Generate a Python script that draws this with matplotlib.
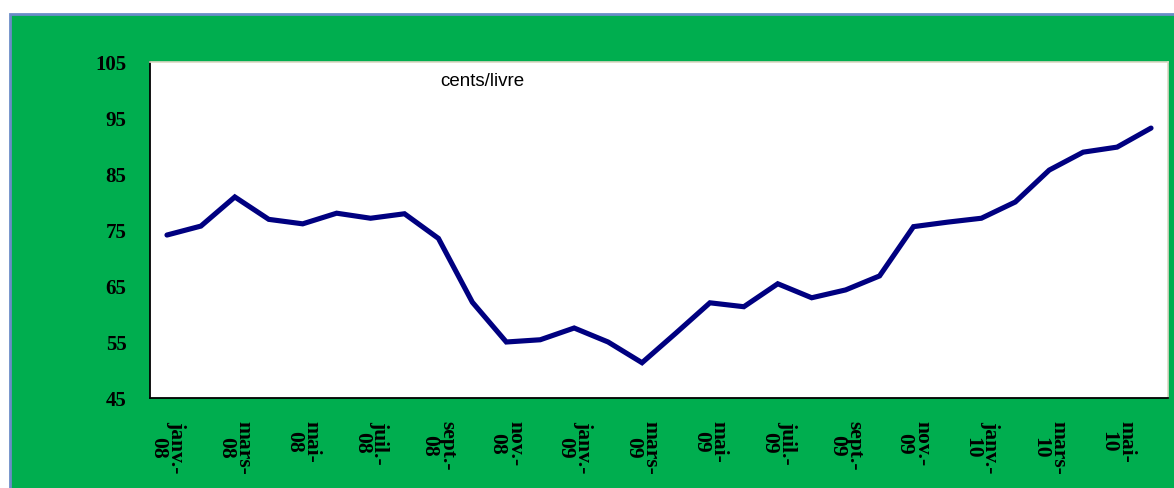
import matplotlib.pyplot as plt
from matplotlib.patches import Rectangle

# monthly prices, janv. 2008 - juin 2010
months = ['janv.-\n08', 'févr.-\n08', 'mars-\n08', 'avr.-\n08', 'mai-\n08', 'juin-\n08',
          'juil.-\n08', 'août-\n08', 'sept.-\n08', 'oct.-\n08', 'nov.-\n08', 'déc.-\n08',
          'janv.-\n09', 'févr.-\n09', 'mars-\n09', 'avr.-\n09', 'mai-\n09', 'juin-\n09',
          'juil.-\n09', 'août-\n09', 'sept.-\n09', 'oct.-\n09', 'nov.-\n09', 'déc.-\n09',
          'janv.-\n10', 'févr.-\n10', 'mars-\n10', 'avr.-\n10', 'mai-\n10', 'juin-\n10']
prices = [74.1, 75.7, 80.9, 76.9, 76.1, 78.0, 77.1, 77.9, 73.5, 62.1,
          55.0, 55.4, 57.5, 55.0, 51.3, 56.6, 62.0, 61.3, 65.4, 62.9,
          64.3, 66.8, 75.6, 76.4, 77.1, 80.0, 85.7, 88.9, 89.8, 93.2]
yticks = [45, 55, 65, 75, 85, 95, 105]
unit_label = 'cents/livre'

fig = plt.figure(figsize=(11.74, 4.89), dpi=100)
fig.patch.set_facecolor('white')

# green frame
frame = Rectangle((10 / 1174, -0.01), 1.0, 1 - 15 / 489 + 0.01, transform=fig.transFigure,
                  facecolor='#00AE4F', edgecolor='#6A8CC8', linewidth=2, zorder=-10)
fig.patches.append(frame)

ax = fig.add_axes([150 / 1174, 1 - 399 / 489, 1018 / 1174, 336 / 489])
ax.set_zorder(5)
ax.set_facecolor('white')

x = list(range(len(prices)))
ax.plot(x, prices, color='#000080', linewidth=3.7, solid_joinstyle='miter',
        solid_capstyle='round')

ax.set_xlim(-0.5, len(prices) - 0.5)
ax.set_ylim(45, 105)
ax.set_yticks(yticks)
ax.set_yticklabels([str(v) for v in yticks], fontfamily='Liberation Serif',
                   fontweight='bold', fontsize=15)
ax.set_xticks(x[::2])
ax.set_xticklabels(months[::2], rotation=-90, fontfamily='Liberation Serif',
                   fontweight='bold', fontsize=15.5, linespacing=0.85)
ax.tick_params(axis='y', length=0, pad=17)
ax.tick_params(axis='x', length=0, pad=16)

for side in ['left', 'bottom']:
    ax.spines[side].set_color('black')
    ax.spines[side].set_linewidth(1.3)
for side in ['top', 'right']:
    ax.spines[side].set_color('#DDD8C4')
    ax.spines[side].set_linewidth(1.2)

ax.text(0.285, 0.946, unit_label, transform=ax.transAxes, fontfamily='Liberation Sans',
        fontsize=13.5, va='center', ha='left')

fig.savefig('out.png', dpi=100)
